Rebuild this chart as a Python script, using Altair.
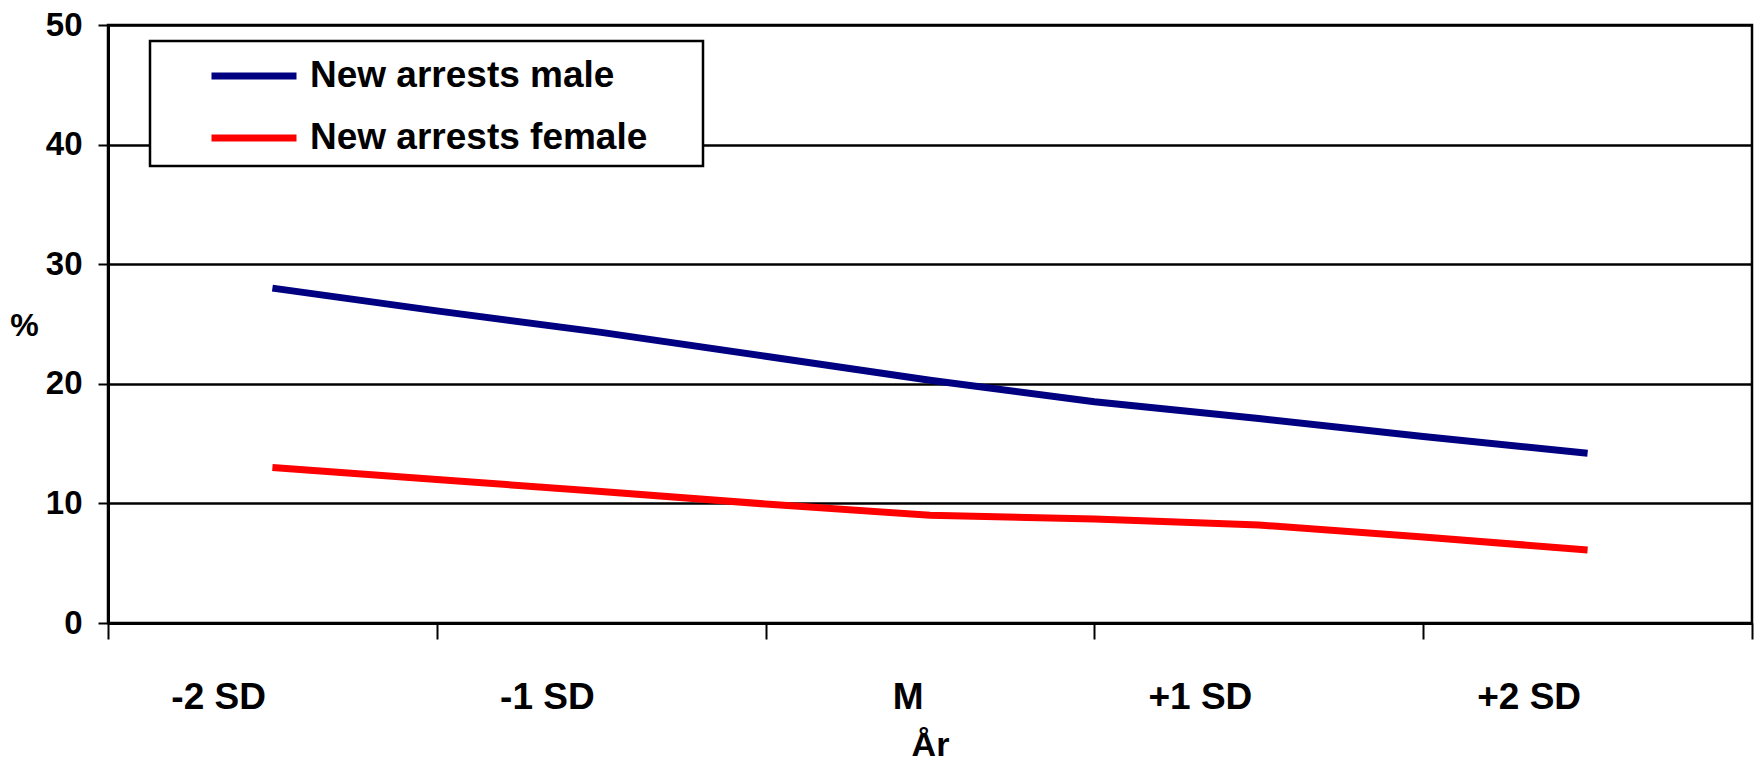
import altair as alt
import pandas as pd

# --- data ---
x_positions = [1, 2, 3, 4, 5, 6, 7, 8, 9]
x_labels = ["", "-2 SD", "", "-1 SD", "", "M", "", "+1 SD", "", "+2 SD", ""]  # indexed by axis value 0..10
male = [28.0, 26.1, 24.3, 22.3, 20.3, 18.5, 17.1, 15.6, 14.2]
female = [13.0, 12.0, 11.0, 9.95, 9.0, 8.7, 8.2, 7.2, 6.1]
series_names = ["New arrests male", "New arrests female"]
series_colors = ["#000080", "#FF0000"]
y_ticks = [0, 10, 20, 30, 40, 50]

rows = []
for name, vals in zip(series_names, [male, female]):
    for xp, v in zip(x_positions, vals):
        rows.append({"series": name, "x": xp, "value": v})
df = pd.DataFrame(rows)

FONT = "Liberation Sans"
label_js = "[" + ",".join("'" + s + "'" for s in x_labels) + "][datum.value]"

chart = alt.Chart(df).mark_line(strokeWidth=7, strokeCap="butt", strokeJoin="miter").encode(
    x=alt.X(
        "x:Q",
        scale=alt.Scale(domain=[0, 10], nice=False, zero=False),
        axis=alt.Axis(
            values=list(range(0, 11)),
            labelExpr=label_js,
            title="År",
            titleFont=FONT,
            titleFontSize=34,
            titleFontWeight="bold",
            titleColor="black",
            titleBaseline="alphabetic",
            titleY=132,
            titleX=822,
            titleAnchor="middle",
            titleAlign="center",
            labelFont=FONT,
            labelFontSize=37,
            labelFontWeight="bold",
            labelColor="black",
            labelAlign="right",
            labelBaseline="alphabetic",
            labelOffset=-7,
            labelPadding=69,
            labelOverlap=False,
            labelFlush=False,
            tickSize=16,
            tickWidth=2,
            tickColor="black",
            tickOpacity={"condition": {"test": "datum.value % 2 == 1", "value": 0}, "value": 1},
            domainColor="black",
            domainWidth=3,
            grid=False,
        ),
    ),
    y=alt.Y(
        "value:Q",
        scale=alt.Scale(domain=[0, 50], nice=False),
        axis=alt.Axis(
            values=y_ticks,
            title="%",
            titleAngle=0,
            titleFont=FONT,
            titleFontSize=32,
            titleFontWeight="bold",
            titleColor="black",
            titleAlign="center",
            titleBaseline="middle",
            titleX=-84,
            titleY=300,
            labelFont=FONT,
            labelFontSize=33,
            labelFontWeight="bold",
            labelColor="black",
            labelPadding=16,
            labelBaseline="middle",
            tickSize=10,
            tickWidth=2,
            tickColor="black",
            domainColor="black",
            domainWidth=3,
            grid=True,
            gridColor="black",
            gridWidth=2.5,
        ),
    ),
    color=alt.Color(
        "series:N",
        scale=alt.Scale(domain=series_names, range=series_colors),
        sort=series_names,
        legend=alt.Legend(
            orient="none",
            legendX=42,
            legendY=16,
            title=".",
            titleOrient="right",
            titleColor="white",
            titleOpacity=0,
            titleFontSize=2,
            titlePadding=45,
            symbolType="M-2,0L2,0",
            symbolStrokeWidth=7,
            symbolSize=1806,
            labelFont=FONT,
            labelFontSize=37,
            labelFontWeight="bold",
            labelColor="black",
            labelOffset=31,
            labelLimit=800,
            padding=10,
            rowPadding=19,
            symbolOffset=69,
            strokeColor="black",
            fillColor="white",
        ),
    ),
    detail="series:N",
).properties(
    width=1644,
    height=598,
    padding={"left": 108, "top": 25, "right": 4, "bottom": 141},
    autosize="none",
    background="white",
).configure_view(
    stroke="black", strokeWidth=2.5
).configure_legend(
    strokeWidth=2.5
)

chart.save("out.html", embed_options={"renderer": "svg", "actions": False})
